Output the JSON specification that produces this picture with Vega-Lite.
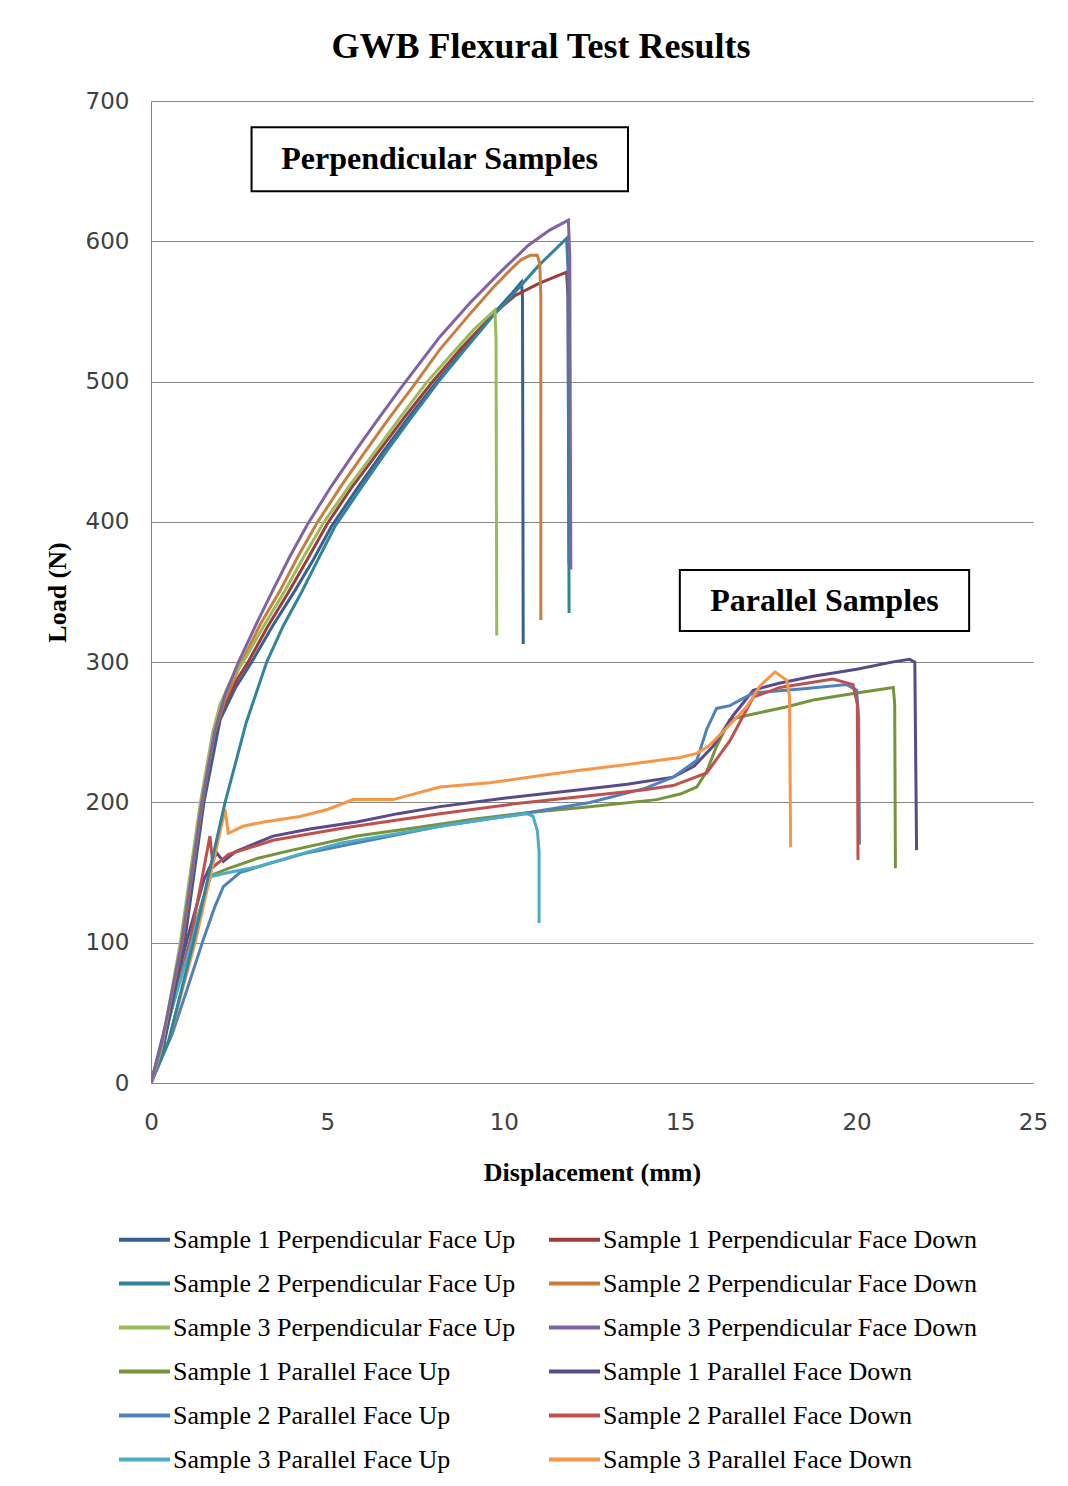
{
"$schema": "https://vega.github.io/schema/vega-lite/v6.json",
"width": 882, "height": 982,
"autosize": {"type": "none"},
"padding": {"left": 151, "top": 101, "right": 35, "bottom": 403},
"background": "white",
"title": {"text": "GWB Flexural Test Results", "font": "Liberation Serif", "fontSize": 36, "fontWeight": "bold", "color": "#000000", "anchor": "middle", "frame": "group", "offset": 24, "dx": -51},
"datasets": {
"curves": [
{"s":"Sample 1 Parallel Face Up","i":0,"x":0,"y":0},{"s":"Sample 1 Parallel Face Up","i":1,"x":0.5,"y":45},{"s":"Sample 1 Parallel Face Up","i":2,"x":1.1,"y":100},{"s":"Sample 1 Parallel Face Up","i":3,"x":1.7,"y":148},{"s":"Sample 1 Parallel Face Up","i":4,"x":2.2,"y":153},{"s":"Sample 1 Parallel Face Up","i":5,"x":3.0,"y":160},{"s":"Sample 1 Parallel Face Up","i":6,"x":4.0,"y":166},{"s":"Sample 1 Parallel Face Up","i":7,"x":5.83,"y":176},{"s":"Sample 1 Parallel Face Up","i":8,"x":7.5,"y":182},{"s":"Sample 1 Parallel Face Up","i":9,"x":9.13,"y":188},{"s":"Sample 1 Parallel Face Up","i":10,"x":10.8,"y":193},{"s":"Sample 1 Parallel Face Up","i":11,"x":12.44,"y":197},{"s":"Sample 1 Parallel Face Up","i":12,"x":14.33,"y":202},{"s":"Sample 1 Parallel Face Up","i":13,"x":15.0,"y":206},{"s":"Sample 1 Parallel Face Up","i":14,"x":15.47,"y":211},{"s":"Sample 1 Parallel Face Up","i":15,"x":15.75,"y":222},{"s":"Sample 1 Parallel Face Up","i":16,"x":16.03,"y":240},{"s":"Sample 1 Parallel Face Up","i":17,"x":16.41,"y":259},{"s":"Sample 1 Parallel Face Up","i":18,"x":16.88,"y":262},{"s":"Sample 1 Parallel Face Up","i":19,"x":18.0,"y":268},{"s":"Sample 1 Parallel Face Up","i":20,"x":18.77,"y":273},{"s":"Sample 1 Parallel Face Up","i":21,"x":20.0,"y":278},{"s":"Sample 1 Parallel Face Up","i":22,"x":21.04,"y":282},{"s":"Sample 1 Parallel Face Up","i":23,"x":21.08,"y":270},{"s":"Sample 1 Parallel Face Up","i":24,"x":21.1,"y":153},
{"s":"Sample 1 Parallel Face Down","i":0,"x":0,"y":0},{"s":"Sample 1 Parallel Face Down","i":1,"x":0.5,"y":50},{"s":"Sample 1 Parallel Face Down","i":2,"x":1.0,"y":100},{"s":"Sample 1 Parallel Face Down","i":3,"x":1.5,"y":145},{"s":"Sample 1 Parallel Face Down","i":4,"x":1.86,"y":164},{"s":"Sample 1 Parallel Face Down","i":5,"x":2.05,"y":158},{"s":"Sample 1 Parallel Face Down","i":6,"x":2.4,"y":165},{"s":"Sample 1 Parallel Face Down","i":7,"x":3.46,"y":176},{"s":"Sample 1 Parallel Face Down","i":8,"x":4.5,"y":181},{"s":"Sample 1 Parallel Face Down","i":9,"x":5.83,"y":186},{"s":"Sample 1 Parallel Face Down","i":10,"x":7.0,"y":192},{"s":"Sample 1 Parallel Face Down","i":11,"x":8.19,"y":197},{"s":"Sample 1 Parallel Face Down","i":12,"x":10.0,"y":203},{"s":"Sample 1 Parallel Face Down","i":13,"x":12.16,"y":209},{"s":"Sample 1 Parallel Face Down","i":14,"x":13.5,"y":213},{"s":"Sample 1 Parallel Face Down","i":15,"x":14.8,"y":218},{"s":"Sample 1 Parallel Face Down","i":16,"x":15.4,"y":226},{"s":"Sample 1 Parallel Face Down","i":17,"x":15.93,"y":240},{"s":"Sample 1 Parallel Face Down","i":18,"x":16.5,"y":262},{"s":"Sample 1 Parallel Face Down","i":19,"x":17.07,"y":280},{"s":"Sample 1 Parallel Face Down","i":20,"x":17.8,"y":285},{"s":"Sample 1 Parallel Face Down","i":21,"x":18.77,"y":290},{"s":"Sample 1 Parallel Face Down","i":22,"x":20.0,"y":295},{"s":"Sample 1 Parallel Face Down","i":23,"x":21.0,"y":300},{"s":"Sample 1 Parallel Face Down","i":24,"x":21.5,"y":302},{"s":"Sample 1 Parallel Face Down","i":25,"x":21.65,"y":300},{"s":"Sample 1 Parallel Face Down","i":26,"x":21.7,"y":166},
{"s":"Sample 2 Parallel Face Up","i":0,"x":0,"y":0},{"s":"Sample 2 Parallel Face Up","i":1,"x":0.6,"y":35},{"s":"Sample 2 Parallel Face Up","i":2,"x":1.0,"y":65},{"s":"Sample 2 Parallel Face Up","i":3,"x":1.48,"y":102},{"s":"Sample 2 Parallel Face Up","i":4,"x":1.8,"y":125},{"s":"Sample 2 Parallel Face Up","i":5,"x":2.05,"y":140},{"s":"Sample 2 Parallel Face Up","i":6,"x":2.52,"y":150},{"s":"Sample 2 Parallel Face Up","i":7,"x":3.3,"y":156},{"s":"Sample 2 Parallel Face Up","i":8,"x":4.41,"y":164},{"s":"Sample 2 Parallel Face Up","i":9,"x":6.2,"y":173},{"s":"Sample 2 Parallel Face Up","i":10,"x":8.19,"y":183},{"s":"Sample 2 Parallel Face Up","i":11,"x":10.3,"y":191},{"s":"Sample 2 Parallel Face Up","i":12,"x":12.44,"y":200},{"s":"Sample 2 Parallel Face Up","i":13,"x":14.0,"y":210},{"s":"Sample 2 Parallel Face Up","i":14,"x":14.8,"y":218},{"s":"Sample 2 Parallel Face Up","i":15,"x":15.47,"y":230},{"s":"Sample 2 Parallel Face Up","i":16,"x":15.75,"y":252},{"s":"Sample 2 Parallel Face Up","i":17,"x":16.03,"y":267},{"s":"Sample 2 Parallel Face Up","i":18,"x":16.41,"y":269},{"s":"Sample 2 Parallel Face Up","i":19,"x":17.07,"y":278},{"s":"Sample 2 Parallel Face Up","i":20,"x":18.5,"y":281},{"s":"Sample 2 Parallel Face Up","i":21,"x":19.72,"y":284},{"s":"Sample 2 Parallel Face Up","i":22,"x":20.0,"y":280},{"s":"Sample 2 Parallel Face Up","i":23,"x":20.06,"y":260},{"s":"Sample 2 Parallel Face Up","i":24,"x":20.08,"y":170},
{"s":"Sample 2 Parallel Face Down","i":0,"x":0,"y":0},{"s":"Sample 2 Parallel Face Down","i":1,"x":0.5,"y":45},{"s":"Sample 2 Parallel Face Down","i":2,"x":1.1,"y":100},{"s":"Sample 2 Parallel Face Down","i":3,"x":1.67,"y":176},{"s":"Sample 2 Parallel Face Down","i":4,"x":1.76,"y":154},{"s":"Sample 2 Parallel Face Down","i":5,"x":2.2,"y":163},{"s":"Sample 2 Parallel Face Down","i":6,"x":3.46,"y":173},{"s":"Sample 2 Parallel Face Down","i":7,"x":5.5,"y":182},{"s":"Sample 2 Parallel Face Down","i":8,"x":8.19,"y":192},{"s":"Sample 2 Parallel Face Down","i":9,"x":10.3,"y":199},{"s":"Sample 2 Parallel Face Down","i":10,"x":12.16,"y":204},{"s":"Sample 2 Parallel Face Down","i":11,"x":14.0,"y":209},{"s":"Sample 2 Parallel Face Down","i":12,"x":14.8,"y":212},{"s":"Sample 2 Parallel Face Down","i":13,"x":15.75,"y":221},{"s":"Sample 2 Parallel Face Down","i":14,"x":16.41,"y":244},{"s":"Sample 2 Parallel Face Down","i":15,"x":17.07,"y":275},{"s":"Sample 2 Parallel Face Down","i":16,"x":17.83,"y":282},{"s":"Sample 2 Parallel Face Down","i":17,"x":19.33,"y":288},{"s":"Sample 2 Parallel Face Down","i":18,"x":19.9,"y":284},{"s":"Sample 2 Parallel Face Down","i":19,"x":20.02,"y":270},{"s":"Sample 2 Parallel Face Down","i":20,"x":20.04,"y":159},
{"s":"Sample 3 Parallel Face Up","i":0,"x":0,"y":0},{"s":"Sample 3 Parallel Face Up","i":1,"x":0.5,"y":45},{"s":"Sample 3 Parallel Face Up","i":2,"x":1.15,"y":100},{"s":"Sample 3 Parallel Face Up","i":3,"x":1.4,"y":125},{"s":"Sample 3 Parallel Face Up","i":4,"x":1.67,"y":147},{"s":"Sample 3 Parallel Face Up","i":5,"x":2.2,"y":150},{"s":"Sample 3 Parallel Face Up","i":6,"x":3.0,"y":154},{"s":"Sample 3 Parallel Face Up","i":7,"x":4.2,"y":163},{"s":"Sample 3 Parallel Face Up","i":8,"x":5.36,"y":171},{"s":"Sample 3 Parallel Face Up","i":9,"x":6.8,"y":177},{"s":"Sample 3 Parallel Face Up","i":10,"x":8.19,"y":183},{"s":"Sample 3 Parallel Face Up","i":11,"x":9.5,"y":188},{"s":"Sample 3 Parallel Face Up","i":12,"x":10.4,"y":191},{"s":"Sample 3 Parallel Face Up","i":13,"x":10.65,"y":192},{"s":"Sample 3 Parallel Face Up","i":14,"x":10.83,"y":190},{"s":"Sample 3 Parallel Face Up","i":15,"x":10.95,"y":180},{"s":"Sample 3 Parallel Face Up","i":16,"x":11.0,"y":165},{"s":"Sample 3 Parallel Face Up","i":17,"x":11.0,"y":114},
{"s":"Sample 3 Parallel Face Down","i":0,"x":0,"y":0},{"s":"Sample 3 Parallel Face Down","i":1,"x":0.5,"y":30},{"s":"Sample 3 Parallel Face Down","i":2,"x":1.25,"y":100},{"s":"Sample 3 Parallel Face Down","i":3,"x":1.7,"y":150},{"s":"Sample 3 Parallel Face Down","i":4,"x":2.1,"y":195},{"s":"Sample 3 Parallel Face Down","i":5,"x":2.19,"y":178},{"s":"Sample 3 Parallel Face Down","i":6,"x":2.6,"y":183},{"s":"Sample 3 Parallel Face Down","i":7,"x":3.2,"y":186},{"s":"Sample 3 Parallel Face Down","i":8,"x":4.22,"y":190},{"s":"Sample 3 Parallel Face Down","i":9,"x":5.0,"y":195},{"s":"Sample 3 Parallel Face Down","i":10,"x":5.73,"y":202},{"s":"Sample 3 Parallel Face Down","i":11,"x":6.86,"y":202},{"s":"Sample 3 Parallel Face Down","i":12,"x":8.19,"y":211},{"s":"Sample 3 Parallel Face Down","i":13,"x":9.6,"y":214},{"s":"Sample 3 Parallel Face Down","i":14,"x":11.0,"y":219},{"s":"Sample 3 Parallel Face Down","i":15,"x":12.16,"y":223},{"s":"Sample 3 Parallel Face Down","i":16,"x":13.5,"y":227},{"s":"Sample 3 Parallel Face Down","i":17,"x":15.0,"y":232},{"s":"Sample 3 Parallel Face Down","i":18,"x":15.47,"y":235},{"s":"Sample 3 Parallel Face Down","i":19,"x":15.8,"y":240},{"s":"Sample 3 Parallel Face Down","i":20,"x":16.2,"y":250},{"s":"Sample 3 Parallel Face Down","i":21,"x":16.88,"y":268},{"s":"Sample 3 Parallel Face Down","i":22,"x":17.26,"y":283},{"s":"Sample 3 Parallel Face Down","i":23,"x":17.69,"y":293},{"s":"Sample 3 Parallel Face Down","i":24,"x":18.02,"y":287},{"s":"Sample 3 Parallel Face Down","i":25,"x":18.1,"y":275},{"s":"Sample 3 Parallel Face Down","i":26,"x":18.13,"y":168},
{"s":"Sample 1 Perpendicular Face Up","i":0,"x":0,"y":0},{"s":"Sample 1 Perpendicular Face Up","i":1,"x":0.35,"y":25},{"s":"Sample 1 Perpendicular Face Up","i":2,"x":0.95,"y":100},{"s":"Sample 1 Perpendicular Face Up","i":3,"x":1.5,"y":200},{"s":"Sample 1 Perpendicular Face Up","i":4,"x":1.96,"y":259},{"s":"Sample 1 Perpendicular Face Up","i":5,"x":2.4,"y":282},{"s":"Sample 1 Perpendicular Face Up","i":6,"x":2.85,"y":300},{"s":"Sample 1 Perpendicular Face Up","i":7,"x":3.45,"y":326},{"s":"Sample 1 Perpendicular Face Up","i":8,"x":4.08,"y":351},{"s":"Sample 1 Perpendicular Face Up","i":9,"x":4.6,"y":373},{"s":"Sample 1 Perpendicular Face Up","i":10,"x":5.12,"y":397},{"s":"Sample 1 Perpendicular Face Up","i":11,"x":5.85,"y":424},{"s":"Sample 1 Perpendicular Face Up","i":12,"x":6.58,"y":450},{"s":"Sample 1 Perpendicular Face Up","i":13,"x":7.35,"y":476},{"s":"Sample 1 Perpendicular Face Up","i":14,"x":8.1,"y":500},{"s":"Sample 1 Perpendicular Face Up","i":15,"x":8.9,"y":524},{"s":"Sample 1 Perpendicular Face Up","i":16,"x":9.7,"y":548},{"s":"Sample 1 Perpendicular Face Up","i":17,"x":10.2,"y":562},{"s":"Sample 1 Perpendicular Face Up","i":18,"x":10.5,"y":571},{"s":"Sample 1 Perpendicular Face Up","i":19,"x":10.53,"y":560},{"s":"Sample 1 Perpendicular Face Up","i":20,"x":10.55,"y":313},
{"s":"Sample 1 Perpendicular Face Down","i":0,"x":0,"y":0},{"s":"Sample 1 Perpendicular Face Down","i":1,"x":0.3,"y":25},{"s":"Sample 1 Perpendicular Face Down","i":2,"x":0.9,"y":100},{"s":"Sample 1 Perpendicular Face Down","i":3,"x":1.45,"y":200},{"s":"Sample 1 Perpendicular Face Down","i":4,"x":1.8,"y":248},{"s":"Sample 1 Perpendicular Face Down","i":5,"x":2.05,"y":268},{"s":"Sample 1 Perpendicular Face Down","i":6,"x":2.45,"y":288},{"s":"Sample 1 Perpendicular Face Down","i":7,"x":2.75,"y":300},{"s":"Sample 1 Perpendicular Face Down","i":8,"x":3.3,"y":325},{"s":"Sample 1 Perpendicular Face Down","i":9,"x":3.9,"y":350},{"s":"Sample 1 Perpendicular Face Down","i":10,"x":4.45,"y":374},{"s":"Sample 1 Perpendicular Face Down","i":11,"x":4.98,"y":398},{"s":"Sample 1 Perpendicular Face Down","i":12,"x":5.7,"y":425},{"s":"Sample 1 Perpendicular Face Down","i":13,"x":6.45,"y":450},{"s":"Sample 1 Perpendicular Face Down","i":14,"x":7.2,"y":475},{"s":"Sample 1 Perpendicular Face Down","i":15,"x":7.95,"y":499},{"s":"Sample 1 Perpendicular Face Down","i":16,"x":8.8,"y":524},{"s":"Sample 1 Perpendicular Face Down","i":17,"x":9.7,"y":548},{"s":"Sample 1 Perpendicular Face Down","i":18,"x":10.3,"y":561},{"s":"Sample 1 Perpendicular Face Down","i":19,"x":11.0,"y":570},{"s":"Sample 1 Perpendicular Face Down","i":20,"x":11.78,"y":578},{"s":"Sample 1 Perpendicular Face Down","i":21,"x":11.82,"y":560},{"s":"Sample 1 Perpendicular Face Down","i":22,"x":11.85,"y":370},
{"s":"Sample 2 Perpendicular Face Up","i":0,"x":0,"y":0},{"s":"Sample 2 Perpendicular Face Up","i":1,"x":0.5,"y":30},{"s":"Sample 2 Perpendicular Face Up","i":2,"x":1.2,"y":100},{"s":"Sample 2 Perpendicular Face Up","i":3,"x":2.1,"y":200},{"s":"Sample 2 Perpendicular Face Up","i":4,"x":2.7,"y":257},{"s":"Sample 2 Perpendicular Face Up","i":5,"x":3.28,"y":300},{"s":"Sample 2 Perpendicular Face Up","i":6,"x":3.75,"y":326},{"s":"Sample 2 Perpendicular Face Up","i":7,"x":4.27,"y":350},{"s":"Sample 2 Perpendicular Face Up","i":8,"x":4.75,"y":374},{"s":"Sample 2 Perpendicular Face Up","i":9,"x":5.22,"y":397},{"s":"Sample 2 Perpendicular Face Up","i":10,"x":5.95,"y":424},{"s":"Sample 2 Perpendicular Face Up","i":11,"x":6.67,"y":450},{"s":"Sample 2 Perpendicular Face Up","i":12,"x":7.4,"y":475},{"s":"Sample 2 Perpendicular Face Up","i":13,"x":8.15,"y":500},{"s":"Sample 2 Perpendicular Face Up","i":14,"x":8.9,"y":523},{"s":"Sample 2 Perpendicular Face Up","i":15,"x":9.7,"y":547},{"s":"Sample 2 Perpendicular Face Up","i":16,"x":10.22,"y":561},{"s":"Sample 2 Perpendicular Face Up","i":17,"x":11.0,"y":583},{"s":"Sample 2 Perpendicular Face Up","i":18,"x":11.78,"y":602},{"s":"Sample 2 Perpendicular Face Up","i":19,"x":11.82,"y":580},{"s":"Sample 2 Perpendicular Face Up","i":20,"x":11.85,"y":335},
{"s":"Sample 2 Perpendicular Face Down","i":0,"x":0,"y":0},{"s":"Sample 2 Perpendicular Face Down","i":1,"x":0.3,"y":26},{"s":"Sample 2 Perpendicular Face Down","i":2,"x":0.88,"y":100},{"s":"Sample 2 Perpendicular Face Down","i":3,"x":1.45,"y":200},{"s":"Sample 2 Perpendicular Face Down","i":4,"x":1.8,"y":250},{"s":"Sample 2 Perpendicular Face Down","i":5,"x":2.08,"y":272},{"s":"Sample 2 Perpendicular Face Down","i":6,"x":2.57,"y":300},{"s":"Sample 2 Perpendicular Face Down","i":7,"x":3.1,"y":327},{"s":"Sample 2 Perpendicular Face Down","i":8,"x":3.66,"y":351},{"s":"Sample 2 Perpendicular Face Down","i":9,"x":4.18,"y":376},{"s":"Sample 2 Perpendicular Face Down","i":10,"x":4.7,"y":399},{"s":"Sample 2 Perpendicular Face Down","i":11,"x":5.4,"y":426},{"s":"Sample 2 Perpendicular Face Down","i":12,"x":6.07,"y":450},{"s":"Sample 2 Perpendicular Face Down","i":13,"x":6.75,"y":474},{"s":"Sample 2 Perpendicular Face Down","i":14,"x":7.44,"y":497},{"s":"Sample 2 Perpendicular Face Down","i":15,"x":8.19,"y":523},{"s":"Sample 2 Perpendicular Face Down","i":16,"x":9.0,"y":547},{"s":"Sample 2 Perpendicular Face Down","i":17,"x":9.7,"y":567},{"s":"Sample 2 Perpendicular Face Down","i":18,"x":10.2,"y":580},{"s":"Sample 2 Perpendicular Face Down","i":19,"x":10.5,"y":587},{"s":"Sample 2 Perpendicular Face Down","i":20,"x":10.75,"y":590},{"s":"Sample 2 Perpendicular Face Down","i":21,"x":10.95,"y":590},{"s":"Sample 2 Perpendicular Face Down","i":22,"x":11.02,"y":584},{"s":"Sample 2 Perpendicular Face Down","i":23,"x":11.05,"y":560},{"s":"Sample 2 Perpendicular Face Down","i":24,"x":11.05,"y":330},
{"s":"Sample 3 Perpendicular Face Up","i":0,"x":0,"y":0},{"s":"Sample 3 Perpendicular Face Up","i":1,"x":0.3,"y":25},{"s":"Sample 3 Perpendicular Face Up","i":2,"x":0.83,"y":100},{"s":"Sample 3 Perpendicular Face Up","i":3,"x":1.4,"y":200},{"s":"Sample 3 Perpendicular Face Up","i":4,"x":1.75,"y":250},{"s":"Sample 3 Perpendicular Face Up","i":5,"x":1.96,"y":270},{"s":"Sample 3 Perpendicular Face Up","i":6,"x":2.25,"y":286},{"s":"Sample 3 Perpendicular Face Up","i":7,"x":2.66,"y":302},{"s":"Sample 3 Perpendicular Face Up","i":8,"x":3.2,"y":326},{"s":"Sample 3 Perpendicular Face Up","i":9,"x":3.8,"y":351},{"s":"Sample 3 Perpendicular Face Up","i":10,"x":4.35,"y":376},{"s":"Sample 3 Perpendicular Face Up","i":11,"x":4.88,"y":399},{"s":"Sample 3 Perpendicular Face Up","i":12,"x":5.6,"y":425},{"s":"Sample 3 Perpendicular Face Up","i":13,"x":6.35,"y":450},{"s":"Sample 3 Perpendicular Face Up","i":14,"x":7.08,"y":475},{"s":"Sample 3 Perpendicular Face Up","i":15,"x":7.8,"y":499},{"s":"Sample 3 Perpendicular Face Up","i":16,"x":8.5,"y":519},{"s":"Sample 3 Perpendicular Face Up","i":17,"x":9.15,"y":537},{"s":"Sample 3 Perpendicular Face Up","i":18,"x":9.75,"y":551},{"s":"Sample 3 Perpendicular Face Up","i":19,"x":9.78,"y":530},{"s":"Sample 3 Perpendicular Face Up","i":20,"x":9.8,"y":319},
{"s":"Sample 3 Perpendicular Face Down","i":0,"x":0,"y":0},{"s":"Sample 3 Perpendicular Face Down","i":1,"x":0.3,"y":28},{"s":"Sample 3 Perpendicular Face Down","i":2,"x":0.87,"y":100},{"s":"Sample 3 Perpendicular Face Down","i":3,"x":1.44,"y":200},{"s":"Sample 3 Perpendicular Face Down","i":4,"x":1.8,"y":250},{"s":"Sample 3 Perpendicular Face Down","i":5,"x":2.1,"y":277},{"s":"Sample 3 Perpendicular Face Down","i":6,"x":2.48,"y":300},{"s":"Sample 3 Perpendicular Face Down","i":7,"x":3.0,"y":328},{"s":"Sample 3 Perpendicular Face Down","i":8,"x":3.47,"y":352},{"s":"Sample 3 Perpendicular Face Down","i":9,"x":3.95,"y":376},{"s":"Sample 3 Perpendicular Face Down","i":10,"x":4.43,"y":398},{"s":"Sample 3 Perpendicular Face Down","i":11,"x":5.1,"y":425},{"s":"Sample 3 Perpendicular Face Down","i":12,"x":5.78,"y":450},{"s":"Sample 3 Perpendicular Face Down","i":13,"x":6.4,"y":472},{"s":"Sample 3 Perpendicular Face Down","i":14,"x":7.1,"y":496},{"s":"Sample 3 Perpendicular Face Down","i":15,"x":8.19,"y":532},{"s":"Sample 3 Perpendicular Face Down","i":16,"x":9.04,"y":556},{"s":"Sample 3 Perpendicular Face Down","i":17,"x":9.9,"y":578},{"s":"Sample 3 Perpendicular Face Down","i":18,"x":10.69,"y":597},{"s":"Sample 3 Perpendicular Face Down","i":19,"x":11.3,"y":608},{"s":"Sample 3 Perpendicular Face Down","i":20,"x":11.83,"y":615},{"s":"Sample 3 Perpendicular Face Down","i":21,"x":11.87,"y":590},{"s":"Sample 3 Perpendicular Face Down","i":22,"x":11.9,"y":366}
],
"notes": [
{"label": "Perpendicular Samples", "x0": 2.85, "x1": 13.52, "y0": 635.7, "y1": 681.3, "xc": 8.18, "yc": 658.5},
{"label": "Parallel Samples", "x0": 14.99, "x1": 23.19, "y0": 322.2, "y1": 365.6, "xc": 19.09, "yc": 343.9}
]
},
"layer": [
{
"data": {"name": "curves"},
"mark": {"type": "line", "strokeWidth": 3, "clip": true},
"encoding": {
"x": {"field": "x", "type": "quantitative", "title": "Displacement (mm)",
"scale": {"domain": [0, 25], "nice": false},
"axis": {"values": [0, 5, 10, 15, 20, 25], "grid": false, "labelPadding": 28, "labelFlush": false, "titleY": 89, "titleBaseline": "middle"}},
"y": {"field": "y", "type": "quantitative", "title": "Load (N)",
"scale": {"domain": [0, 700], "nice": false},
"axis": {"values": [0, 100, 200, 300, 400, 500, 600, 700], "grid": true, "labelPadding": 22, "labelFlush": false, "titleX": -94, "titleY": 491, "titleAngle": -90, "titleBaseline": "middle", "titleAlign": "center"}},
"order": {"field": "i", "type": "quantitative"},
"color": {"field": "s", "type": "nominal",
"scale": {
"domain": ["Sample 1 Perpendicular Face Up", "Sample 2 Perpendicular Face Up", "Sample 3 Perpendicular Face Up", "Sample 1 Parallel Face Up", "Sample 2 Parallel Face Up", "Sample 3 Parallel Face Up", "Sample 1 Perpendicular Face Down", "Sample 2 Perpendicular Face Down", "Sample 3 Perpendicular Face Down", "Sample 1 Parallel Face Down", "Sample 2 Parallel Face Down", "Sample 3 Parallel Face Down"],
"range": ["#376092", "#31849B", "#9BBB59", "#77933C", "#4F81BD", "#4BACC6", "#9E3B38", "#C87E3E", "#8064A2", "#5B4A8B", "#C0504D", "#F79646"]},
"legend": {"title": null, "orient": "none", "legendX": -34, "legendY": 1111, "columns": 2, "symbolType": "stroke", "symbolSize": 2600, "symbolStrokeWidth": 4, "labelFont": "Liberation Serif", "labelFontSize": 26, "labelColor": "#000000", "labelOffset": 1, "rowPadding": 3, "columnPadding": 25, "labelLimit": 500}}
}
},
{
"data": {"name": "notes"},
"mark": {"type": "rect", "fill": "white", "stroke": "black", "strokeWidth": 2},
"encoding": {
"x": {"field": "x0", "type": "quantitative", "title": "Displacement (mm)"},
"x2": {"field": "x1"},
"y": {"field": "y0", "type": "quantitative", "title": "Load (N)"},
"y2": {"field": "y1"}
}
},
{
"data": {"name": "notes"},
"mark": {"type": "text", "font": "Liberation Serif", "fontSize": 32, "fontWeight": "bold", "color": "#000000"},
"encoding": {
"x": {"field": "xc", "type": "quantitative", "title": "Displacement (mm)"},
"y": {"field": "yc", "type": "quantitative", "title": "Load (N)"},
"text": {"field": "label"}
}
}
],
"config": {
"view": {"stroke": null},
"axis": {"labelFont": "DejaVu Sans", "labelFontSize": 23, "labelColor": "#404040", "titleFont": "Liberation Serif", "titleFontSize": 26, "titleFontWeight": "bold", "titleColor": "#000000", "domainColor": "#868686", "gridColor": "#868686", "ticks": false}
}
}
